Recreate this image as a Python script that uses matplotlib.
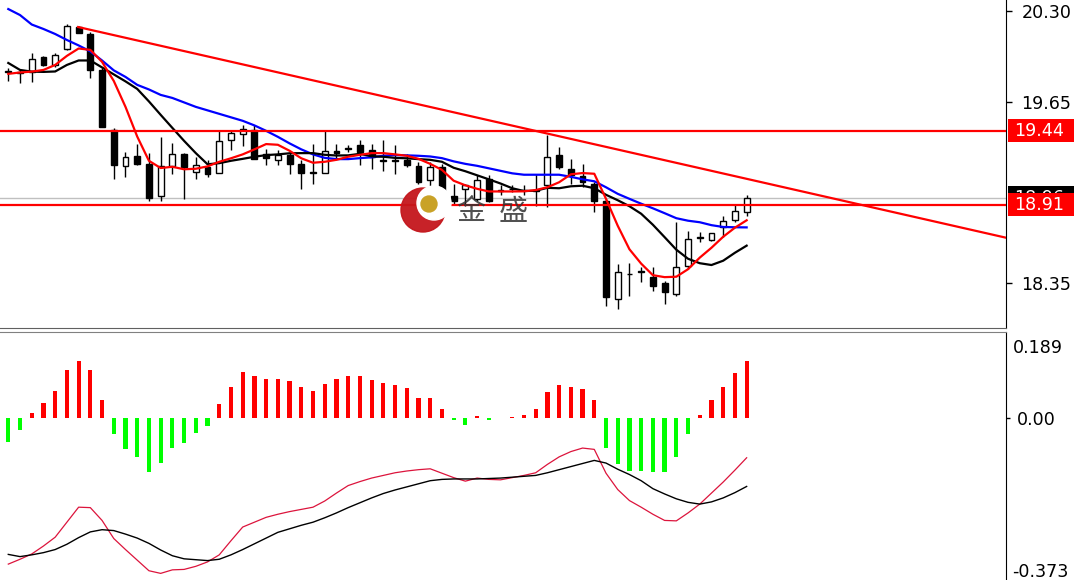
import matplotlib
matplotlib.use("Agg")
import matplotlib.pyplot as plt
import matplotlib.transforms as mtransforms
from matplotlib.patches import Rectangle, Circle

plt.rcParams['font.family'] = ['DejaVu Sans']

# 蠟燭圖數據 (每根K線)
opens = [19.86, 19.86, 19.863, 19.967, 19.911, 20.024, 20.183, 20.134, 19.875, 19.449,
         19.185, 19.257, 19.204, 18.971, 19.187, 19.271, 19.144, 19.180, 19.139, 19.377,
         19.415, 19.449, 19.276, 19.228, 19.269, 19.204, 19.144, 19.137, 19.296, 19.314,
         19.341, 19.300, 19.232, 19.228, 19.228, 19.185, 19.089, 19.180, 18.969, 19.024,
         18.952, 19.096, 19.012, 19.024, 19.012, 19.008, 19.048, 19.264, 19.168, 19.113,
         19.060, 18.940, 18.233, 18.413, 18.432, 18.388, 18.345, 18.269, 18.473, 18.674,
         18.657, 18.753, 18.801, 18.856]
highs = [19.89, 19.875, 19.996, 19.976, 20.0, 20.206, 20.192, 20.151, 19.890, 19.458,
         19.288, 19.348, 19.278, 19.396, 19.352, 19.278, 19.252, 19.228, 19.437, 19.449,
         19.480, 19.480, 19.312, 19.300, 19.288, 19.228, 19.348, 19.449, 19.348, 19.336,
         19.377, 19.348, 19.372, 19.336, 19.276, 19.216, 19.216, 19.204, 19.060, 19.060,
         19.120, 19.120, 19.048, 19.048, 19.048, 19.132, 19.408, 19.324, 19.240, 19.204,
         19.072, 18.952, 18.485, 18.489, 18.460, 18.460, 18.365, 18.784, 18.724, 18.712,
         18.710, 18.832, 18.916, 18.976]
lows = [19.80, 19.78, 19.791, 19.904, 19.899, 20.019, 20.142, 19.816, 19.467, 19.096,
        19.108, 19.192, 18.940, 18.940, 19.127, 18.952, 19.096, 19.108, 19.139, 19.300,
        19.329, 19.240, 19.192, 19.192, 19.132, 19.024, 19.060, 19.137, 19.240, 19.288,
        19.192, 19.168, 19.151, 19.132, 19.180, 19.060, 18.940, 18.964, 18.916, 18.904,
        18.940, 18.928, 18.976, 18.998, 18.976, 18.904, 18.892, 19.168, 19.060, 19.036,
        18.856, 18.185, 18.161, 18.257, 18.352, 18.293, 18.197, 18.257, 18.449, 18.640,
        18.652, 18.676, 18.784, 18.832]
closes = [19.87, 19.855, 19.952, 19.911, 19.983, 20.192, 20.144, 19.875, 19.467, 19.192,
          19.252, 19.204, 18.960, 19.185, 19.276, 19.180, 19.192, 19.132, 19.365, 19.424,
          19.456, 19.240, 19.244, 19.269, 19.204, 19.137, 19.139, 19.293, 19.282, 19.309,
          19.288, 19.252, 19.226, 19.224, 19.192, 19.072, 19.180, 18.976, 18.940, 19.048,
          19.084, 18.940, 19.008, 19.026, 19.016, 19.016, 19.252, 19.180, 19.120, 19.072,
          18.940, 18.245, 18.424, 18.415, 18.429, 18.329, 18.280, 18.460, 18.665, 18.678,
          18.705, 18.791, 18.863, 18.960]

# 均線
ma_red = [19.849, 19.859, 19.865, 19.877, 19.913, 19.978, 20.031, 20.021, 19.935, 19.798,
          19.612, 19.399, 19.225, 19.173, 19.182, 19.164, 19.168, 19.185, 19.218, 19.243,
          19.271, 19.307, 19.345, 19.340, 19.297, 19.243, 19.211, 19.218, 19.232, 19.254,
          19.268, 19.280, 19.280, 19.271, 19.261, 19.239, 19.203, 19.160, 19.082, 19.049,
          19.024, 19.005, 19.005, 19.005, 19.006, 19.015, 19.035, 19.071, 19.128, 19.137,
          19.132, 18.952, 18.759, 18.590, 18.487, 18.404, 18.390, 18.393, 18.447, 18.530,
          18.601, 18.680, 18.745, 18.798]
ma_black = [19.927, 19.877, 19.865, 19.863, 19.866, 19.913, 19.945, 19.945, 19.895, 19.845,
            19.795, 19.741, 19.651, 19.555, 19.461, 19.368, 19.280, 19.200, 19.208, 19.225,
            19.239, 19.254, 19.266, 19.271, 19.279, 19.280, 19.280, 19.268, 19.263, 19.264,
            19.275, 19.257, 19.254, 19.246, 19.243, 19.237, 19.232, 19.218, 19.175, 19.150,
            19.121, 19.092, 19.062, 19.028, 19.008, 19.010, 19.031, 19.028, 19.042, 19.046,
            19.028, 18.981, 18.942, 18.899, 18.845, 18.766, 18.677, 18.587, 18.522, 18.490,
            18.477, 18.508, 18.565, 18.616]
ma_blue = [20.314, 20.271, 20.203, 20.171, 20.135, 20.092, 20.053, 20.010, 19.945, 19.874,
           19.827, 19.770, 19.737, 19.698, 19.676, 19.644, 19.612, 19.587, 19.562, 19.537,
           19.512, 19.479, 19.440, 19.397, 19.350, 19.307, 19.271, 19.246, 19.237, 19.237,
           19.244, 19.250, 19.261, 19.266, 19.264, 19.261, 19.256, 19.244, 19.221, 19.203,
           19.189, 19.171, 19.153, 19.135, 19.125, 19.125, 19.125, 19.125, 19.110, 19.092,
           19.078, 19.035, 18.988, 18.952, 18.917, 18.884, 18.849, 18.813, 18.795, 18.784,
           18.763, 18.750, 18.748, 18.747]

# MACD
macd_hist = [-0.055, -0.027, 0.012, 0.034, 0.062, 0.108, 0.130, 0.108, 0.040, -0.036,
             -0.070, -0.089, -0.123, -0.102, -0.068, -0.056, -0.033, -0.018, 0.031, 0.070,
             0.105, 0.096, 0.089, 0.089, 0.084, 0.070, 0.062, 0.078, 0.089, 0.096,
             0.096, 0.087, 0.080, 0.074, 0.068, 0.046, 0.046, 0.021, -0.004, -0.015,
             0.004, -0.004, 0.001, 0.002, 0.008, 0.021, 0.059, 0.074, 0.070, 0.065,
             0.040, -0.068, -0.104, -0.121, -0.121, -0.123, -0.123, -0.089, -0.037, 0.006,
             0.040, 0.070, 0.102, 0.130]
macd_fast = [-0.331, -0.320, -0.308, -0.290, -0.270, -0.236, -0.202, -0.203, -0.232, -0.273,
             -0.298, -0.322, -0.346, -0.352, -0.344, -0.343, -0.336, -0.326, -0.310, -0.278,
             -0.247, -0.236, -0.225, -0.218, -0.212, -0.207, -0.202, -0.188, -0.170, -0.153,
             -0.144, -0.136, -0.130, -0.124, -0.120, -0.117, -0.115, -0.125, -0.135, -0.143,
             -0.136, -0.139, -0.140, -0.135, -0.130, -0.124, -0.105, -0.088, -0.076, -0.068,
             -0.071, -0.125, -0.162, -0.187, -0.202, -0.218, -0.232, -0.233, -0.215, -0.195,
             -0.170, -0.145, -0.118, -0.090]
macd_slow = [-0.309, -0.314, -0.310, -0.305, -0.298, -0.286, -0.271, -0.258, -0.253, -0.255,
             -0.263, -0.272, -0.284, -0.299, -0.312, -0.319, -0.321, -0.323, -0.320, -0.310,
             -0.298, -0.285, -0.272, -0.259, -0.251, -0.243, -0.236, -0.226, -0.215, -0.203,
             -0.192, -0.181, -0.171, -0.163, -0.156, -0.149, -0.142, -0.139, -0.138, -0.138,
             -0.138, -0.137, -0.136, -0.134, -0.132, -0.130, -0.124, -0.117, -0.110, -0.103,
             -0.096, -0.102, -0.116, -0.128, -0.142, -0.160, -0.172, -0.183, -0.191, -0.195,
             -0.190, -0.181, -0.169, -0.155]

# 水平線與趨勢線
levels = [19.44, 18.91]
bid_price = 18.96
trend_x = [5.96, 85.13]
trend_y = [20.185, 18.673]
price_ticks = [20.30, 19.65, 18.35]

W, H = 1074, 580
fig = plt.figure(figsize=(W / 100, H / 100), dpi=100)
ax1 = fig.add_axes([0, 1 - 328 / H, 1006 / W, 328 / H])
ax2 = fig.add_axes([0, 0, 1006 / W, 248 / H])

x = list(range(len(closes)))
xlim = (-0.708, 85.13)

# K線
for i in x:
    o, h, l, c = opens[i], highs[i], lows[i], closes[i]
    ax1.vlines(i, l, h, color='black', lw=1, zorder=3)
    fc = 'white' if c > o else 'black'
    ax1.add_patch(Rectangle((i - 0.25, min(o, c)), 0.5, abs(c - o), facecolor=fc,
                            edgecolor='black', lw=1, zorder=4))

ax1.plot(x, ma_blue, color='#0000ff', lw=1.6, zorder=5)
ax1.plot(x, ma_black, color='black', lw=1.6, zorder=5)
ax1.plot(x, ma_red, color='#ff0000', lw=1.6, zorder=5)

ax1.axhline(bid_price, color='#c0c0c0', lw=1, zorder=2)
for lv in levels:
    ax1.axhline(lv, color='#ff0000', lw=1.6, zorder=6)
ax1.plot(trend_x, trend_y, color='#ff0000', lw=1.6, zorder=6)

ax1.set_xlim(*xlim)
ax1.set_ylim(18.025, 20.379)
ax1.set_xticks([])
ax1.yaxis.tick_right()
ax1.set_yticks(price_ticks)
ax1.set_yticklabels([f"{t:.2f}" for t in price_ticks])
ax1.tick_params(axis='y', length=4, width=1, pad=7, labelsize=12.6, colors='black')
for s in ['top', 'left']:
    ax1.spines[s].set_visible(False)
ax1.spines['bottom'].set_color('#606060')
ax1.spines['right'].set_color('black')

# 右側價格標籤 (後畫的蓋在上面)
tr = mtransforms.blended_transform_factory(fig.transFigure, ax1.transData)
box_h = 23 / 139.5
label_items = [(bid_price, 'black'), (levels[1], '#ff0000'), (levels[0], '#ff0000')]
for k, (val, col) in enumerate(label_items):
    box = Rectangle((1008 / W, val - box_h / 2), 66 / W, box_h, transform=tr,
                    facecolor=col, edgecolor='none', clip_on=False, zorder=10 + 2 * k)
    ax1.add_patch(box)
    t = ax1.text(1014 / W, val, f"{val:.2f}", transform=tr, color='white', fontsize=12.6,
                 va='center', ha='left', zorder=11 + 2 * k)
    t.set_clip_path(box)

# MACD 副圖
hist_colors = ['#ff0000' if v >= 0 else '#00ff00' for v in macd_hist]
ax2.bar(x, macd_hist, width=0.36, color=hist_colors, zorder=3)
ax2.plot(x, macd_fast, color='#dc143c', lw=0.9, zorder=4)
ax2.plot(x, macd_slow, color='black', lw=1.0, zorder=4)
ax2.set_xlim(*xlim)
ax2.set_ylim(-0.367, 0.195)
ax2.set_xticks([])
ax2.yaxis.tick_right()
ax2.set_yticks([0.0])
ax2.set_yticklabels(["0.00"])
ax2.tick_params(axis='y', length=3, width=1, pad=5, labelsize=12.6, colors='black')
for s in ['bottom', 'left']:
    ax2.spines[s].set_visible(False)
ax2.spines['top'].set_color('#808080')
ax2.spines['right'].set_color('black')
fig.text(1013 / W, 1 - 348 / H, "0.189", fontsize=12.6, va='center', ha='left')
fig.text(1012 / W, 1 - 572 / H, "-0.373", fontsize=12.6, va='center', ha='left')

# 浮水印標誌
ax0 = fig.add_axes([0, 0, 1, 1], zorder=20)
ax0.set_xlim(0, W)
ax0.set_ylim(H, 0)
ax0.axis('off')
ax0.patch.set_alpha(0)
ax0.add_patch(Circle((423, 210), 22, color='#c4161c', alpha=0.95))
ax0.add_patch(Circle((434, 203), 17, color='white'))
ax0.add_patch(Circle((429, 204), 8, color='#c9a227'))
ax0.text(471, 212, "金", fontsize=21, color='#333333', alpha=0.85, ha='center', va='center',
         family=['Noto Sans CJK SC', 'DejaVu Sans'])
ax0.text(513, 212, "盛", fontsize=21, color='#333333', alpha=0.85, ha='center', va='center',
         family=['Noto Sans CJK SC', 'DejaVu Sans'])

fig.savefig("out.png", dpi=100)
